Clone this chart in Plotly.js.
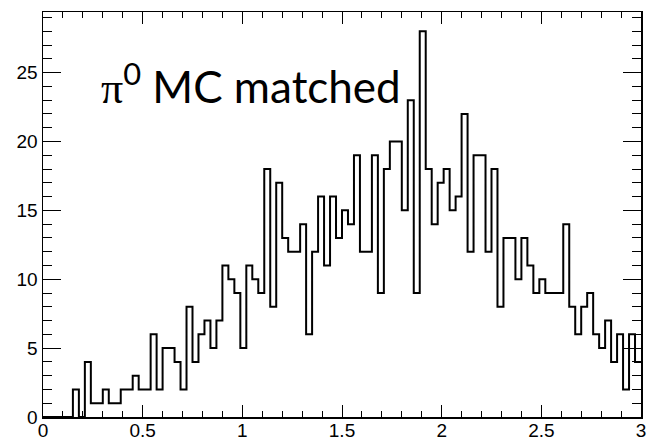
<!DOCTYPE html>
<html>
<head>
<meta charset="utf-8">
<script src="https://cdn.plot.ly/plotly-3.0.1.min.js"></script>
<style>
  html, body { margin: 0; padding: 0; background: #ffffff; }
  #chart { width: 648px; height: 443px; }
</style>
</head>
<body>
<div id="chart"></div>
<script>
// Histogram binning (100 bins from 0 to 3)
const binLow = 0;
const binHigh = 3;
const binCounts = [
  0, 0, 0, 0, 0, 2, 0, 4, 1, 1,
  2, 1, 1, 2, 2, 3, 2, 2, 6, 2,
  5, 5, 4, 2, 8, 4, 6, 7, 5, 7,
  11, 10, 9, 5, 11, 10, 9, 18, 8, 17,
  13, 12, 12, 14, 6, 12, 16, 11, 16, 13,
  15, 14, 19, 12, 12, 19, 9, 18, 20, 20,
  15, 23, 9, 28, 18, 14, 17, 18, 15, 16,
  22, 12, 19, 19, 12, 18, 8, 13, 13, 10,
  13, 11, 9, 10, 9, 9, 9, 14, 8, 6,
  8, 9, 6, 5, 7, 4, 6, 2, 6, 4
];
const xTickVals = [0, 0.5, 1, 1.5, 2, 2.5, 3];
const xTickText = ["0", "0.5", "1", "1.5", "2", "2.5", "3"];
const yTickVals = [0, 5, 10, 15, 20, 25];
const yTickText = ["0", "5", "10", "15", "20", "25"];
const labelText = '<span style="font-family:Liberation Serif">π</span><sup>0</sup> MC matched';

// Build step outline from bin edges
const nBins = binCounts.length;
const binWidth = (binHigh - binLow) / nBins;
const edges = [];
const stepY = [];
for (let i = 0; i <= nBins; i++) {
  edges.push(binLow + i * binWidth);
  stepY.push(i < nBins ? binCounts[i] : binCounts[nBins - 1]);
}

const trace = {
  type: 'scatter',
  mode: 'lines',
  x: edges,
  y: stepY,
  line: { shape: 'hv', color: '#000000', width: 2 },
  cliponaxis: false,
  hoverinfo: 'skip'
};

// invisible helper trace so that the label axis is drawn
const labelTrace = {
  type: 'scatter',
  mode: 'lines',
  x: [binLow, binHigh],
  y: [0, 0],
  xaxis: 'x2',
  yaxis: 'y',
  line: { color: 'rgba(0,0,0,0)', width: 0 },
  hoverinfo: 'skip'
};

const tickFont = { family: 'Liberation Sans', size: 19, color: '#000000' };

const layout = {
  width: 648,
  height: 443,
  margin: { l: 43, r: 7, t: 12, b: 26, pad: 0 },
  paper_bgcolor: '#ffffff',
  plot_bgcolor: '#ffffff',
  showlegend: false,
  xaxis: {
    range: [0, 3],
    showgrid: false,
    zeroline: false,
    showline: true,
    linecolor: '#000000',
    linewidth: 1.5,
    mirror: 'ticks',
    ticks: 'inside',
    ticklen: 12,
    tickwidth: 1,
    tickcolor: '#000000',
    tickmode: 'array',
    tickvals: xTickVals,
    ticktext: xTickText,
    showticklabels: false,
    minor: { dtick: 0.1, tick0: 0, ticks: 'inside', ticklen: 6, tickwidth: 1, tickcolor: '#000000', showgrid: false }
  },
  xaxis2: {
    range: [0, 3],
    overlaying: 'x',
    anchor: 'free',
    position: 0,
    side: 'bottom',
    showgrid: false,
    zeroline: false,
    showline: false,
    ticks: '',
    tickmode: 'array',
    tickvals: xTickVals,
    ticktext: xTickText,
    tickfont: tickFont
  },
  yaxis: {
    range: [0, 29.4],
    showgrid: false,
    zeroline: false,
    showline: true,
    linecolor: '#000000',
    linewidth: 1.5,
    mirror: 'ticks',
    ticks: 'inside',
    ticklen: 18,
    tickwidth: 1,
    tickcolor: '#000000',
    tickmode: 'array',
    tickvals: yTickVals,
    ticktext: yTickText,
    tickfont: tickFont,
    minor: { dtick: 1, tick0: 0, ticks: 'inside', ticklen: 9, tickwidth: 1, tickcolor: '#000000', showgrid: false }
  },
  annotations: [{
    xref: 'paper', yref: 'paper',
    x: 0.093, y: 0.822,
    xanchor: 'left', yanchor: 'middle',
    text: labelText,
    showarrow: false,
    font: { family: 'Lato', size: 44, color: '#000000' }
  }]
};

Plotly.newPlot('chart', [trace, labelTrace], layout, { displayModeBar: false, staticPlot: true });
</script>
</body>
</html>
